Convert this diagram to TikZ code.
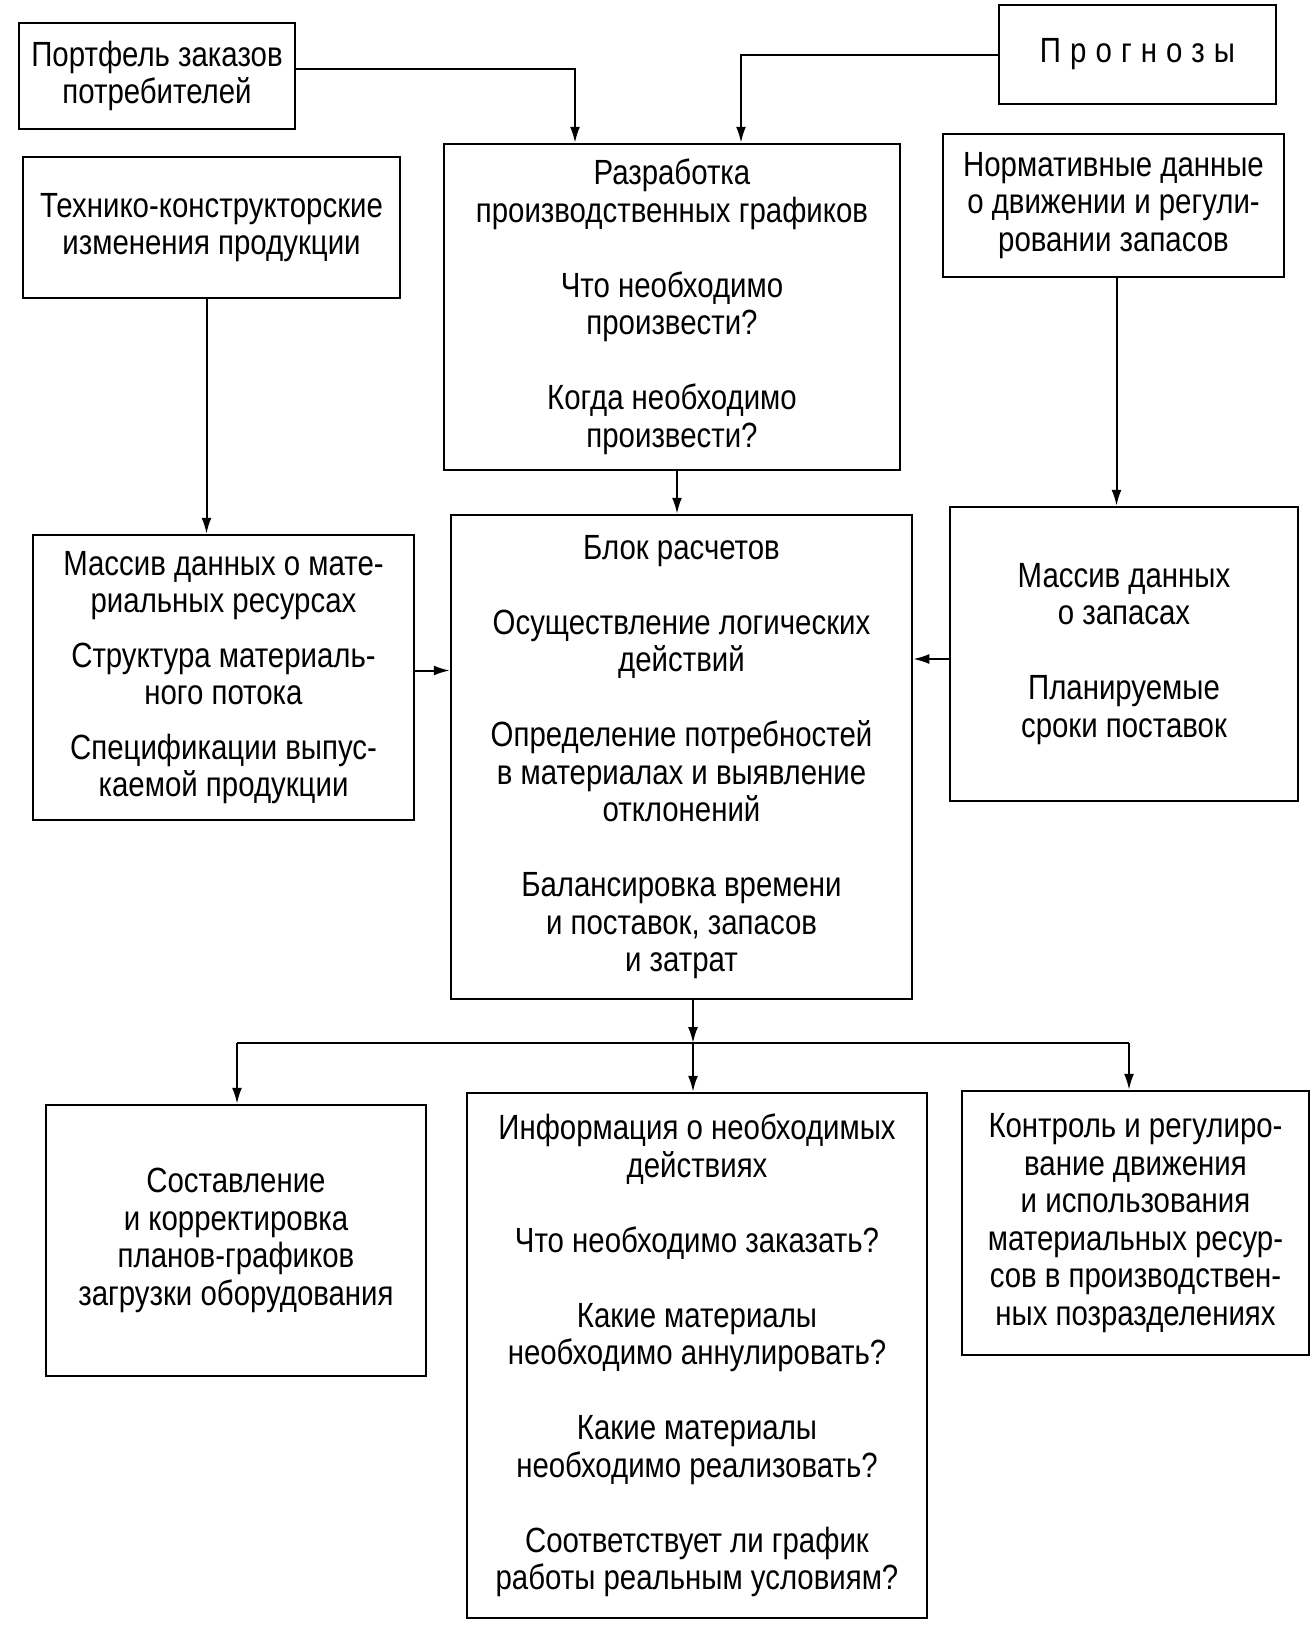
\documentclass[tikz,border=0pt]{standalone}
\usepackage{fontspec}
\setmainfont{Liberation Sans}[FakeStretch=0.84]
\usetikzlibrary{arrows.meta,calc}
\begin{document}
\begin{tikzpicture}[x=1pt,y=-1pt,
  box/.style={draw,line width=2.5pt,align=center,inner sep=0pt,font=\fontsize{35}{37.5}\selectfont},
  arr/.style={line width=2pt,-{Latex[length=16pt,width=10pt]}},
  ln/.style={line width=2pt}]
\useasboundingbox (0,0) rectangle (1314,1638);
\node[box,minimum width=276pt,minimum height=106pt] (portf) at (157,76) {Портфель заказов\\потребителей};
\node[box,minimum width=277pt,minimum height=99pt] (progn) at (1137.5,54.5) {\addfontfeature{LetterSpace=26}Прогнозы};
\node[box,minimum width=377pt,minimum height=141pt] (tech) at (211.5,227.5) {Технико-конструкторские\\изменения продукции};
\node[box,minimum width=456pt,minimum height=326pt] (razr) at (672,307) {Разработка\\производственных графиков\\[37.5pt]Что необходимо\\произвести?\\[37.5pt]Когда необходимо\\произвести?};
\node[box,minimum width=341pt,minimum height=143pt] (norm) at (1113.5,205.5) {Нормативные данные\\о движении и регули-\\ровании запасов};
\node[box,minimum width=381pt,minimum height=285pt] (massL) at (223.5,677.5) {Массив данных о мате-\\риальных ресурсах\\[17pt]Структура материаль-\\ного потока\\[17pt]Спецификации выпус-\\каемой продукции};
\node[box,minimum width=461pt,minimum height=484pt] (blok) at (681.5,757) {Блок расчетов\\[37.5pt]Осуществление логических\\действий\\[37.5pt]Определение потребностей\\в материалах и выявление\\отклонений\\[37.5pt]Балансировка времени\\и поставок, запасов\\и затрат};
\node[box,minimum width=348pt,minimum height=294pt] (massR) at (1124,654) {Массив данных\\о запасах\\[37.5pt]Планируемые\\сроки поставок};
\node[box,minimum width=380pt,minimum height=271pt] (sost) at (236,1240.5) {Составление\\и корректировка\\планов-графиков\\загрузки оборудования};
\node[box,minimum width=460pt,minimum height=525pt] (info) at (697,1355.5) {Информация о необходимых\\действиях\\[37.5pt]Что необходимо заказать?\\[37.5pt]Какие материалы\\необходимо аннулировать?\\[37.5pt]Какие материалы\\необходимо реализовать?\\[37.5pt]Соответствует ли график\\работы реальным условиям?};
\node[box,minimum width=347pt,minimum height=264pt] (kontr) at (1135.5,1223) {Контроль и регулиро-\\вание движения\\и использования\\материальных ресур-\\сов в производствен-\\ных позразделениях};
\draw[arr] ([yshift=7pt]portf.east) -| ([xshift=-97pt]razr.north);
\draw[arr] (progn.west) -| ([xshift=69pt]razr.north);
\draw[arr] ([xshift=-5pt]tech.south) -- ([xshift=-5pt]tech.south |- massL.north);
\draw[arr] ([xshift=5pt]razr.south) -- ([xshift=5pt]razr.south |- blok.north);
\draw[arr] ([xshift=3pt]norm.south) -- ([xshift=3pt]norm.south |- massR.north);
\draw[arr] ([yshift=7pt]massL.east) -- ([yshift=7pt]massL.east -| blok.west);
\draw[arr] ([yshift=-5pt]massR.west) -- ([yshift=-5pt]massR.west -| blok.east);
\coordinate (bus) at (693,1043);
\coordinate (busL) at (237,1043);
\coordinate (busR) at (1129,1043);
\draw[ln] (busL) -- (busR);
\draw[arr] ([xshift=11.5pt]blok.south) -- (bus);
\draw[arr] (bus) -- (bus |- info.north);
\draw[arr] (busL) -- (busL |- sost.north);
\draw[arr] (busR) -- (busR |- kontr.north);
\end{tikzpicture}
\end{document}
